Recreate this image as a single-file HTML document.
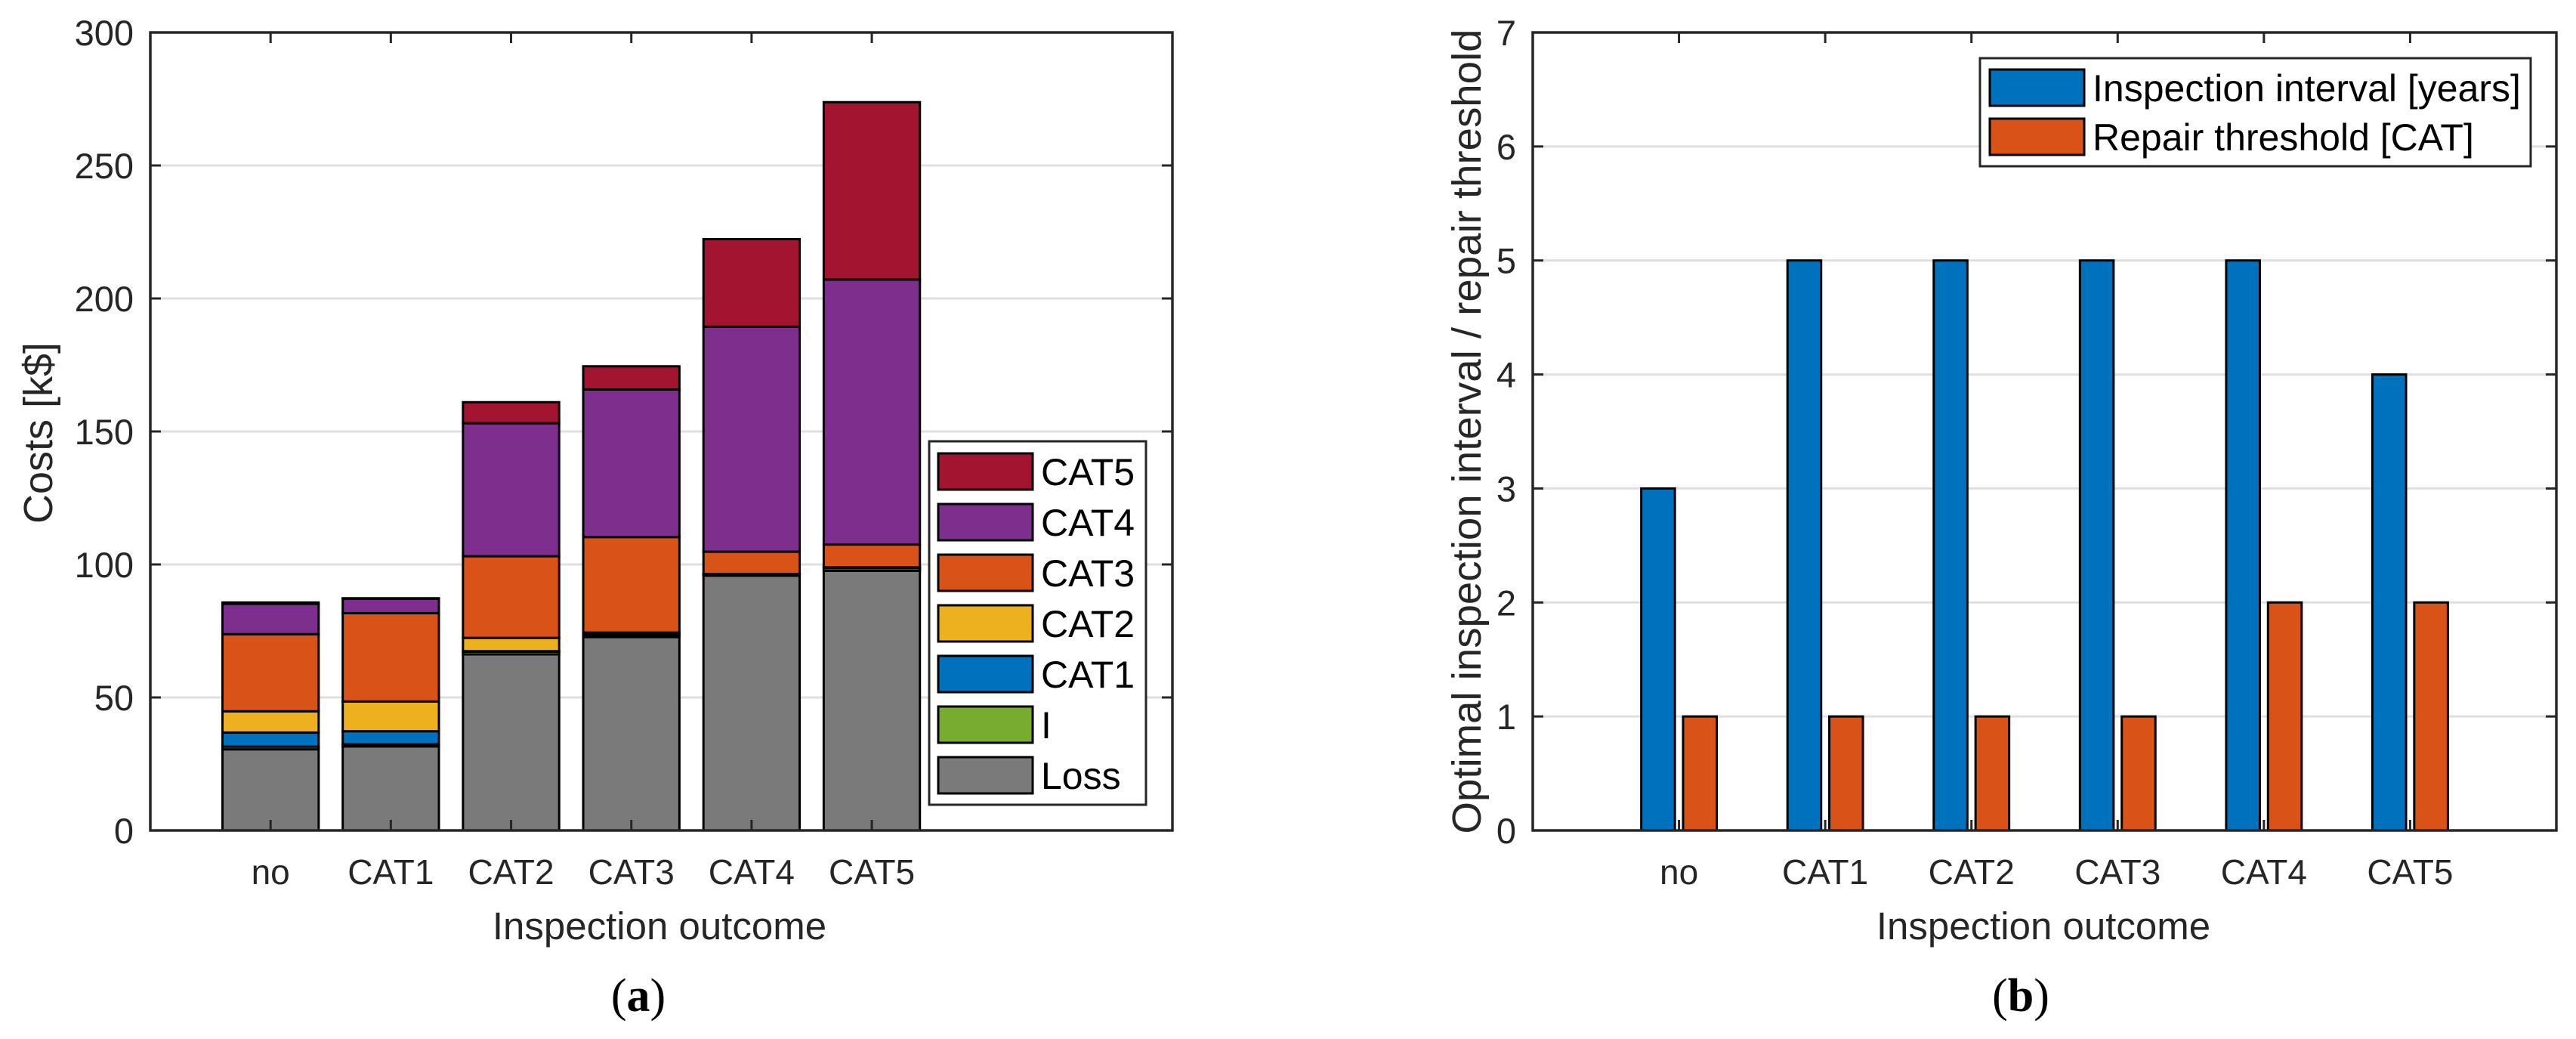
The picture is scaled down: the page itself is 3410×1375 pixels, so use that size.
<!DOCTYPE html>
<html><head><meta charset="utf-8"><style>
html,body{margin:0;padding:0;background:#fff;}
svg{display:block;font-family:"Liberation Sans",Arial,sans-serif;}
</style></head><body>
<svg id="fig" width="3410" height="1375" viewBox="0 0 3410 1375" xmlns="http://www.w3.org/2000/svg"></svg>
<script>
// ---- Chart (a) data ----
const catsA = ["no","CAT1","CAT2","CAT3","CAT4","CAT5"];
const seriesNamesA = ["Loss","I","CAT1","CAT2","CAT3","CAT4","CAT5"];
const lossA = [30.5, 31.6, 66.2, 72.7, 95.8, 97.6];
const iA    = [1.0, 0.8, 1.0, 0.7, 0.4, 1.0];
const cat1A = [5.3, 4.9, 0.2, 0.2, 0.1, 0.2];
const cat2A = [8.0, 11.2, 5.0, 0.8, 0.1, 0.2];
const cat3A = [29.0, 33.2, 30.7, 35.9, 8.4, 8.5];
const cat4A = [11.4, 5.4, 50.0, 55.5, 84.6, 99.6];
const cat5A = [0.5, 0.2, 7.9, 8.7, 32.9, 66.7];
const yTicksA = [0,50,100,150,200,250,300];
// ---- Chart (b) data ----
const catsB = ["no","CAT1","CAT2","CAT3","CAT4","CAT5"];
const intervalB = [3,5,5,5,5,4];
const thresholdB = [1,1,1,1,2,2];
const yTicksB = [0,1,2,3,4,5,6,7];

const colorsA = ["#7a7a7a","#77ac30","#0072bd","#edb120","#d95319","#7e2f8e","#a2142f"];
const NS = "http://www.w3.org/2000/svg";
const svg = document.getElementById("fig");
function mk(tag, attrs, parent, text){
  const e = document.createElementNS(NS, tag);
  for (const k in attrs) e.setAttribute(k, attrs[k]);
  if (text !== undefined) e.textContent = text;
  (parent||svg).appendChild(e);
  return e;
}
const AX = "#262626";

function axes(g, L, R, T, B, xmax, ymax, yTicks, cats, nameP){
  const sx = v => L + (R-L)*v/xmax;
  const sy = v => B - (B-T)*v/ymax;
  yTicks.forEach(t=>{
    if (t>0 && t<ymax){
      const gl = mk("line",{x1:L,x2:R,y1:sy(t),y2:sy(t),stroke:"#dfdfdf","stroke-width":3},g);
      
      
    }
  });
  return {sx, sy};
}
function axesFront(g, L, R, T, B, sx, sy, yTicks, cats, nameP){
  const box = mk("rect",{x:L,y:T,width:R-L,height:B-T,fill:"none",stroke:AX,"stroke-width":3.5},g);
  
  
  yTicks.forEach(t=>{
    const y = sy(t);
    mk("line",{x1:L,x2:L+14,y1:y,y2:y,stroke:AX,"stroke-width":3},g);
    mk("line",{x1:R,x2:R-14,y1:y,y2:y,stroke:AX,"stroke-width":3},g);
    const lb = mk("text",{x:L-22,y:y+17,"text-anchor":"end","font-size":47,fill:AX},g,String(t));
    
    
  });
  cats.forEach((c,i)=>{
    const x = sx(i+1);
    mk("line",{x1:x,x2:x,y1:B,y2:B-14,stroke:AX,"stroke-width":3},g);
    mk("line",{x1:x,x2:x,y1:T,y2:T+14,stroke:AX,"stroke-width":3},g);
    const lb = mk("text",{x:x,y:1170,"text-anchor":"middle","font-size":46,fill:AX},g,c);
    
    
  });
}

// ===== Chart (a) =====
const gA = mk("g",{});


const LA=199, RA=1552, TA=43, BA=1099;
const {sx:sxA, sy:syA} = axes(gA, LA, RA, TA, BA, 8.5, 300, yTicksA, catsA, "chart-a");
const stackA = [lossA,iA,cat1A,cat2A,cat3A,cat4A,cat5A];
catsA.forEach((c,i)=>{
  let base = 0;
  stackA.forEach((ser,s)=>{
    const v = ser[i];
    const x0 = sxA(i+1-0.4), x1 = sxA(i+1+0.4);
    const y0 = syA(base), y1 = syA(base+v);
    const r = mk("rect",{x:x0,y:y1,width:x1-x0,height:Math.max(y0-y1,0),fill:colorsA[s],stroke:"#000","stroke-width":3},gA);
    
    
    base += v;
  });
});
axesFront(gA, LA, RA, TA, BA, sxA, syA, yTicksA, catsA, "chart-a");
// legend a
const legA = mk("g",{},gA);


mk("rect",{x:1230,y:584,width:287,height:481,fill:"#fff",stroke:AX,"stroke-width":3},legA);
const legOrder = [6,5,4,3,2,1,0];
legOrder.forEach((s,k)=>{
  const cy = 624 + k*67;
  const e = mk("g",{},legA);
  
  
  mk("rect",{x:1242,y:cy-24,width:125,height:48,fill:colorsA[s],stroke:"#000","stroke-width":3},e);
  mk("text",{x:1378,y:cy+18,"font-size":50,fill:"#000"},e,seriesNamesA[s]);
});
let t;
t = mk("text",{x:873,y:1243,"text-anchor":"middle","font-size":51,fill:AX},gA,"Inspection outcome");


t = mk("text",{transform:"translate(69,573) rotate(-90)","text-anchor":"middle","font-size":54,fill:AX},gA,"Costs [k$]");


t = mk("text",{x:845,y:1338,"text-anchor":"middle","font-size":62,fill:"#000","font-family":"Liberation Serif, serif"},gA);
t.innerHTML = '(<tspan font-weight="bold">a</tspan>)';



// ===== Chart (b) =====
const gB = mk("g",{});


const LB=2029, RB=3384, TB=43, BB=1099;
const {sx:sxB, sy:syB} = axes(gB, LB, RB, TB, BB, 7, 7, yTicksB, catsB, "chart-b");
const bw = 0.23, off = 0.143;
catsB.forEach((c,i)=>{
  const xb0 = sxB(i+1-off-bw/2), xb1 = sxB(i+1-off+bw/2);
  let r = mk("rect",{x:xb0,y:syB(intervalB[i]),width:xb1-xb0,height:syB(0)-syB(intervalB[i]),fill:"#0072bd",stroke:"#000","stroke-width":3},gB);
  
  
  const xo0 = sxB(i+1+off-bw/2), xo1 = sxB(i+1+off+bw/2);
  r = mk("rect",{x:xo0,y:syB(thresholdB[i]),width:xo1-xo0,height:syB(0)-syB(thresholdB[i]),fill:"#d95319",stroke:"#000","stroke-width":3},gB);
  
  
});
axesFront(gB, LB, RB, TB, BB, sxB, syB, yTicksB, catsB, "chart-b");
const legB = mk("g",{},gB);


mk("rect",{x:2621,y:77,width:729,height:143,fill:"#fff",stroke:AX,"stroke-width":3},legB);
[["Inspection interval [years]","#0072bd",116],["Repair threshold [CAT]","#d95319",181]].forEach(([lab,col,cy])=>{
  const e = mk("g",{},legB);
  
  
  mk("rect",{x:2634,y:cy-24,width:125,height:48,fill:col,stroke:"#000","stroke-width":3},e);
  mk("text",{x:2770,y:cy+18,"font-size":50,fill:"#000"},e,lab);
});
t = mk("text",{x:2705,y:1243,"text-anchor":"middle","font-size":51,fill:AX},gB,"Inspection outcome");


t = mk("text",{transform:"translate(1960,571) rotate(-90)","text-anchor":"middle","font-size":54,fill:AX,textLength:1065,lengthAdjust:"spacingAndGlyphs"},gB,"Optimal inspection interval / repair threshold");


t = mk("text",{x:2675,y:1338,"text-anchor":"middle","font-size":62,fill:"#000","font-family":"Liberation Serif, serif"},gB);
t.innerHTML = '(<tspan font-weight="bold">b</tspan>)';


</script>
</body></html>
